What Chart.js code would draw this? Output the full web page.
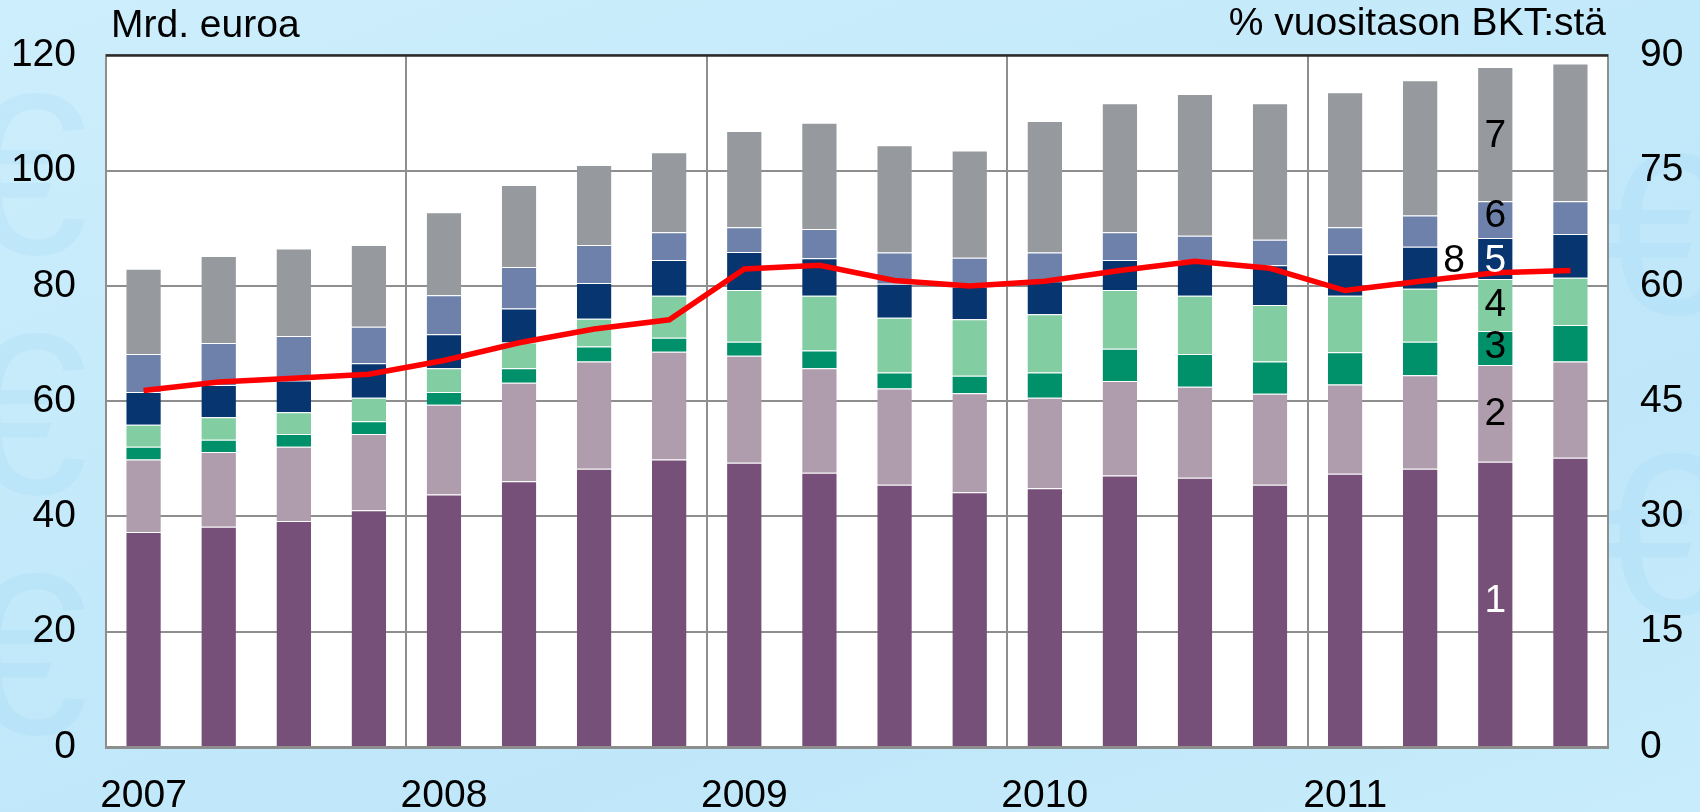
<!DOCTYPE html>
<html>
<head>
<meta charset="utf-8">
<script src="https://cdn.jsdelivr.net/npm/chart.js@4.4.0/dist/chart.umd.min.js"></script>
<style>
  html, body { margin: 0; padding: 0; }
  body {
    width: 1700px; height: 812px; overflow: hidden; position: relative;
    background: linear-gradient(160deg, #cdeefc 0%, #c2e9fa 45%, #bfe7f9 70%, #c8ecfb 100%);
    font-family: "Liberation Sans", Arial, sans-serif;
  }
  .euro { position: absolute; color: rgba(140, 205, 240, 0.16); font-size: 230px; line-height: 1; }
  #wrap { position: absolute; left: 0; top: 0; width: 1700px; height: 812px; }
</style>
</head>
<body>
<div class="euro" style="left:-40px;top:60px">€</div>
<div class="euro" style="left:-40px;top:300px">€</div>
<div class="euro" style="left:-40px;top:540px">€</div>
<div class="euro" style="left:1600px;top:120px">€</div>
<div class="euro" style="left:1600px;top:420px">€</div>
<div id="wrap"><canvas id="chart" width="1700" height="812"></canvas></div>
<script>
// Quarters 2007Q1 - 2011Q4
const quarters = ['2007Q1','2007Q2','2007Q3','2007Q4','2008Q1','2008Q2','2008Q3','2008Q4',
                  '2009Q1','2009Q2','2009Q3','2009Q4','2010Q1','2010Q2','2010Q3','2010Q4',
                  '2011Q1','2011Q2','2011Q3','2011Q4'];

// stacked components, bn euro (left axis)
const s1 = [37.3, 38.2, 39.2, 41.1, 43.8, 46.1, 48.3, 49.9, 49.3, 47.6, 45.5, 44.2, 44.9, 47.1, 46.7, 45.5, 47.4, 48.3, 49.5, 50.2];
const s2 = [12.6, 13.0, 12.9, 13.2, 15.6, 17.1, 18.6, 18.7, 18.6, 18.1, 16.7, 17.2, 15.7, 16.4, 15.8, 15.8, 15.5, 16.2, 16.8, 16.7];
const s3 = [2.2, 2.1, 2.2, 2.2, 2.2, 2.5, 2.6, 2.4, 2.4, 3.1, 2.8, 3.0, 4.4, 5.6, 5.7, 5.6, 5.6, 5.8, 5.9, 6.3];
const s4 = [3.8, 3.9, 3.8, 4.1, 4.1, 4.5, 4.8, 7.3, 9.0, 9.5, 9.5, 9.8, 10.1, 10.2, 10.1, 9.8, 9.8, 9.2, 9.0, 8.2];
const s5 = [5.7, 5.6, 5.5, 6.0, 5.9, 5.9, 6.2, 6.2, 6.6, 6.5, 5.9, 5.7, 5.7, 5.2, 6.1, 6.9, 7.2, 7.3, 7.1, 7.6];
const s6 = [6.6, 7.3, 7.7, 6.3, 6.8, 7.2, 6.6, 4.8, 4.3, 5.1, 5.4, 5.0, 5.0, 4.8, 4.3, 4.4, 4.7, 5.4, 6.4, 5.7];
const s7 = [14.8, 15.1, 15.2, 14.2, 14.4, 14.2, 13.9, 13.9, 16.7, 18.4, 18.6, 18.6, 22.8, 22.4, 24.6, 23.7, 23.4, 23.5, 23.3, 23.9];
// total, % of annual GDP (right axis)
const s8 = [46.4, 47.5, 48.0, 48.5, 50.3, 52.6, 54.4, 55.6, 62.2, 62.7, 60.7, 60.0, 60.6, 62.0, 63.2, 62.3, 59.4, 60.6, 61.7, 62.0];

const leftTicks = [0, 20, 40, 60, 80, 100, 120];
const rightTicks = [0, 15, 30, 45, 60, 75, 90];
const leftTitle = 'Mrd. euroa';
const rightTitle = '% vuositason BKT:stä';

const colors = ['#765079', '#af9dad', '#00906a', '#83cda3', '#06356f', '#6e81ab', '#969a9e'];
const GRID = '#8e8e8e';
const FONT = '39px "Liberation Sans", Arial, sans-serif';

Chart.defaults.font.family = '"Liberation Sans", Arial, sans-serif';
Chart.defaults.font.size = 39;
Chart.defaults.color = '#000';

// white plot area, frame top, axis titles
const panel = {
  id: 'panel',
  beforeDraw(chart) {
    const { ctx, chartArea: a } = chart;
    ctx.save();
    ctx.fillStyle = '#fff';
    ctx.fillRect(a.left, a.top, a.right - a.left, a.bottom - a.top);
    ctx.restore();
  },
  afterDraw(chart) {
    const { ctx, chartArea: a } = chart;
    ctx.save();
    ctx.strokeStyle = '#2a2a2a';
    ctx.lineWidth = 2.5;
    ctx.beginPath();
    ctx.moveTo(a.left, a.top);
    ctx.lineTo(a.right, a.top);
    ctx.stroke();
    ctx.font = FONT;
    ctx.fillStyle = '#000';
    ctx.textBaseline = 'middle';
    ctx.textAlign = 'left';
    ctx.fillText(leftTitle, a.left + 5, 26);
    ctx.textAlign = 'right';
    ctx.fillText(rightTitle, a.right - 2, 24);
    ctx.restore();
  }
};

// series numbers written inside the 2011Q3 bar
const seriesLabels = {
  id: 'seriesLabels',
  afterDatasetsDraw(chart) {
    const { ctx, scales } = chart;
    const x = scales.x.getPixelForValue(18);
    const items = [
      ['1', x, 25.3, '#fff'], ['2', x, 57.8, '#000'], ['3', x, 69.3, '#000'],
      ['4', x, 76.6, '#000'], ['5', x, 84.3, '#fff'], ['6', x, 92.1, '#000'],
      ['7', x, 105.9, '#000'], ['8', scales.x.getPixelForValue(17.45), 84.3, '#000']
    ];
    ctx.save();
    ctx.font = FONT;
    ctx.textAlign = 'center';
    ctx.textBaseline = 'middle';
    items.forEach(([t, px, v, c]) => {
      ctx.fillStyle = c;
      ctx.fillText(t, px, scales.y.getPixelForValue(v));
    });
    ctx.restore();
  }
};

const barSeries = [s1, s2, s3, s4, s5, s6, s7];
const datasets = barSeries.map((d, i) => ({
  type: 'bar',
  label: String(i + 1),
  data: d,
  backgroundColor: colors[i],
  borderColor: 'rgba(255,255,255,0.55)',
  borderWidth: { top: 1, bottom: 0, left: 0, right: 0 },
  borderSkipped: false,
  yAxisID: 'y',
  order: 2,
  barPercentage: 0.46,
  categoryPercentage: 1
}));
datasets.push({
  type: 'line',
  label: '8',
  data: s8,
  yAxisID: 'y2',
  borderColor: '#ff0000',
  borderWidth: 5.5,
  pointRadius: 0,
  tension: 0,
  order: 0
});

new Chart(document.getElementById('chart'), {
  data: { labels: quarters, datasets },
  plugins: [panel, seriesLabels],
  options: {
    responsive: false,
    animation: false,
    layout: { padding: { top: 51, left: 0, right: 0, bottom: 0 } },
    plugins: { legend: { display: false }, tooltip: { enabled: false } },
    scales: {
      x: {
        stacked: true,
        offset: true,
        grid: {
          offset: true,
          drawTicks: false,
          lineWidth: 2,
          color: c => (c.index % 4 === 0 ? GRID : 'rgba(0,0,0,0)')
        },
        border: { color: GRID, width: 3 },
        ticks: {
          autoSkip: false,
          maxRotation: 0,
          padding: 26,
          callback: (v, i) => (i % 4 === 0 ? quarters[i].slice(0, 4) : '')
        },
        afterFit: s => { s.height = 65; }
      },
      y: {
        stacked: true,
        position: 'left',
        min: leftTicks[0],
        max: leftTicks[leftTicks.length - 1],
        afterBuildTicks: s => { s.ticks = leftTicks.map(v => ({ value: v })); },
        ticks: { padding: 30 },
        grid: { drawTicks: false, lineWidth: 2, color: GRID },
        border: { color: GRID, width: 2 },
        afterFit: s => { s.width = 106; }
      },
      y2: {
        position: 'right',
        min: rightTicks[0],
        max: rightTicks[rightTicks.length - 1],
        afterBuildTicks: s => { s.ticks = rightTicks.map(v => ({ value: v })); },
        ticks: { padding: 32 },
        grid: { display: false, drawTicks: false },
        border: { color: GRID, width: 2 },
        afterFit: s => { s.width = 92; }
      }
    }
  }
});
</script>
</body>
</html>
